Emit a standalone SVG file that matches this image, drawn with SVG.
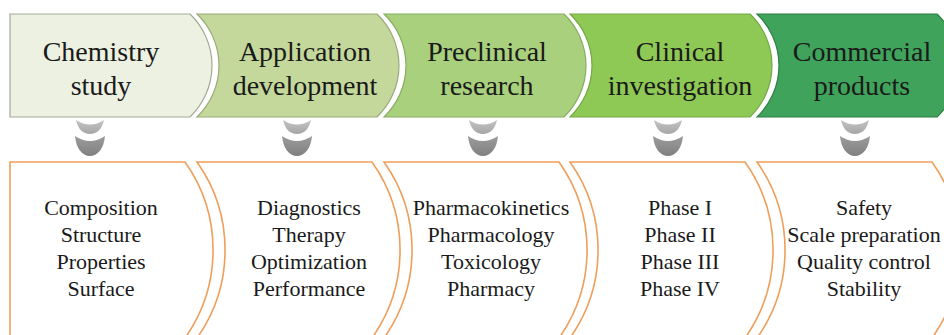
<svg xmlns="http://www.w3.org/2000/svg" width="944" height="335" viewBox="0 0 944 335">
  <style>
    .stage { stroke-width: 1.2; }
    .head { font-family: 'Liberation Serif', 'DejaVu Serif', 'Noto Serif', Times, serif; font-size: 28px; fill: #1a1a1a; text-anchor: middle; }
    .item { font-family: 'Liberation Serif', 'DejaVu Serif', 'Noto Serif', Times, serif; font-size: 22px; fill: #1a1a1a; text-anchor: middle; }
    .box { fill: #ffffff; stroke: #ef9f5c; stroke-width: 1.6; }
    .chev1 { fill: url(#gLight); }
    .chev2 { fill: url(#gDark); }
  </style>
  <defs>
    <linearGradient id="gLight" x1="0" y1="0" x2="0" y2="1">
      <stop offset="0" stop-color="#c4c4c4"/>
      <stop offset="1" stop-color="#a6a6a6"/>
    </linearGradient>
    <linearGradient id="gDark" x1="0" y1="0" x2="0" y2="1">
      <stop offset="0" stop-color="#9c9c9c"/>
      <stop offset="1" stop-color="#808080"/>
    </linearGradient>
    <!-- double chevron pointing down, centred on x=0 -->
    <g id="chevrons">
      <path class="chev1" d="M-14,120 Q0,129 14,120 C12,129 7,134 0,134 C-7,134 -12,129 -14,120 Z"/>
      <path class="chev2" d="M-15,136 Q0,146 15,136 C14,148 8,156 0,156 C-8,156 -14,148 -15,136 Z"/>
    </g>
  </defs>

  <rect width="944" height="335" fill="#ffffff"/>

  <!-- stage headers -->
  <g id="stage-chemistry">
    <path class="stage" fill="#edf1e2" stroke="#a3ab97" d="M10,14 H190 A71.3,71.3 0 0 1 190,117 H10 Z"/>
    <text class="head" x="101" y="61" font-family="Liberation Serif, serif">Chemistry</text>
    <text class="head" x="101" y="95" font-family="Liberation Serif, serif">study</text>
  </g>
  <g id="stage-application">
    <path class="stage" fill="#c4d89c" stroke="#9aab7b" d="M197,14 H377 A71.3,71.3 0 0 1 377,117 H197 A71.3,71.3 0 0 0 197,14 Z"/>
    <text class="head" x="305" y="61">Application</text>
    <text class="head" x="305" y="95">development</text>
  </g>
  <g id="stage-preclinical">
    <path class="stage" fill="#a8d07d" stroke="#88ad62" d="M384,14 H564 A71.3,71.3 0 0 1 564,117 H384 A71.3,71.3 0 0 0 384,14 Z"/>
    <text class="head" x="487" y="61">Preclinical</text>
    <text class="head" x="487" y="95">research</text>
  </g>
  <g id="stage-clinical">
    <path class="stage" fill="#8fc955" stroke="#74a845" d="M570,14 H750 A71.3,71.3 0 0 1 750,117 H570 A71.3,71.3 0 0 0 570,14 Z"/>
    <text class="head" x="680" y="61">Clinical</text>
    <text class="head" x="680" y="95">investigation</text>
  </g>
  <g id="stage-commercial">
    <path class="stage" fill="#3fa35b" stroke="#2f7e45" d="M757,14 H937 A71.3,71.3 0 0 1 937,117 H757 A71.3,71.3 0 0 0 757,14 Z"/>
    <text class="head" x="862" y="61">Commercial</text>
    <text class="head" x="862" y="95">products</text>
  </g>

  <!-- down connectors between headers and detail boxes -->
  <g id="connectors">
    <use href="#chevrons" x="90"/>
    <use href="#chevrons" x="297"/>
    <use href="#chevrons" x="483"/>
    <use href="#chevrons" x="668"/>
    <use href="#chevrons" x="855"/>
  </g>

  <!-- detail boxes -->
  <g id="detail-chemistry">
    <path class="box" d="M10,162 H185 A152,152 0 0 1 185,338 H10 Z"/>
    <text class="item" x="101" y="215">Composition</text>
    <text class="item" x="101" y="242">Structure</text>
    <text class="item" x="101" y="268.5">Properties</text>
    <text class="item" x="101" y="295.5">Surface</text>
  </g>
  <g id="detail-application">
    <path class="box" d="M197,162 H372 A152,152 0 0 1 372,338 H197 A152,152 0 0 0 197,162 Z"/>
    <text class="item" x="309" y="215">Diagnostics</text>
    <text class="item" x="309" y="242">Therapy</text>
    <text class="item" x="309" y="268.5">Optimization</text>
    <text class="item" x="309" y="295.5">Performance</text>
  </g>
  <g id="detail-preclinical">
    <path class="box" d="M384,162 H559 A152,152 0 0 1 559,338 H384 A152,152 0 0 0 384,162 Z"/>
    <text class="item" x="491" y="215">Pharmacokinetics</text>
    <text class="item" x="491" y="242">Pharmacology</text>
    <text class="item" x="491" y="268.5">Toxicology</text>
    <text class="item" x="491" y="295.5">Pharmacy</text>
  </g>
  <g id="detail-clinical">
    <path class="box" d="M570,162 H745 A152,152 0 0 1 745,338 H570 A152,152 0 0 0 570,162 Z"/>
    <text class="item" x="680" y="215">Phase I</text>
    <text class="item" x="680" y="242">Phase II</text>
    <text class="item" x="680" y="268.5">Phase III</text>
    <text class="item" x="680" y="295.5">Phase IV</text>
  </g>
  <g id="detail-commercial">
    <path class="box" d="M757,162 H932 A152,152 0 0 1 932,338 H757 A152,152 0 0 0 757,162 Z"/>
    <text class="item" x="864" y="215">Safety</text>
    <text class="item" x="864" y="242">Scale preparation</text>
    <text class="item" x="864" y="268.5">Quality  control</text>
    <text class="item" x="864" y="295.5">Stability</text>
  </g>
</svg>
